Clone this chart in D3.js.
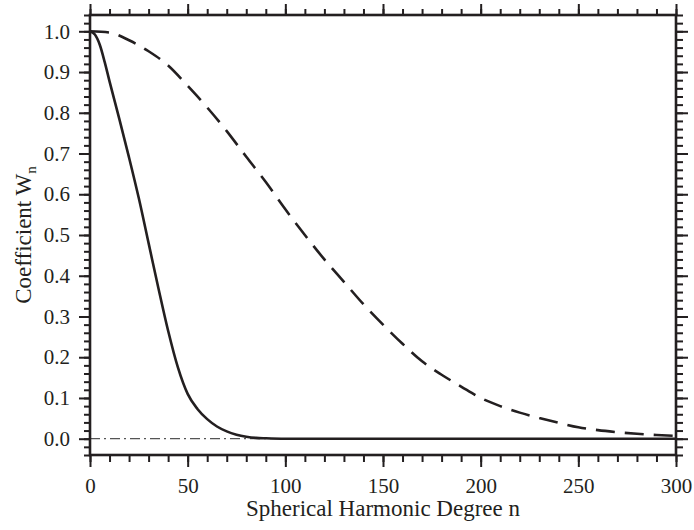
<!DOCTYPE html>
<meta charset="utf-8">
<style>
body { margin: 0; background: #fff; }
.axis text { font-family: "Liberation Serif", "Times New Roman", serif; font-size: 21px; fill: #231f20; }
.axis path { display: none; }
.axis line { stroke: #231f20; stroke-width: 2px; }
.title { font-family: "Liberation Serif", "Times New Roman", serif; font-size: 23px; fill: #231f20; }
</style>
<body>
<script src="https://d3js.org/d3.v7.min.js"></script>
<script>
    const width = 694;
    const height = 530;
    const margin = {top: 15, right: 18, bottom: 75, left: 90};

    // degree n and coefficients
    const narrowDegree = [0, 2.5, 5, 7.5, 10, 15, 20, 25, 30, 35, 40, 45, 50, 55, 60, 65, 70, 75, 80, 85, 90, 100, 150, 200, 250, 300];
    const narrowCoef   = [1.0, 0.992, 0.967, 0.925, 0.877, 0.785, 0.69, 0.59, 0.48, 0.37, 0.265, 0.175, 0.11, 0.073, 0.048, 0.03, 0.018, 0.01, 0.005, 0.002, 0.001, 0, 0, 0, 0, 0];

    const wideDegree = [0, 10, 20, 30, 40, 50, 60, 70, 80, 90, 100, 110, 120, 130, 140, 150, 160, 170, 180, 190, 200, 210, 220, 230, 240, 250, 260, 270, 280, 290, 300];
    const wideCoef   = [1.0, 0.997, 0.978, 0.951, 0.916, 0.866, 0.813, 0.755, 0.692, 0.63, 0.563, 0.5, 0.44, 0.385, 0.33, 0.28, 0.233, 0.19, 0.157, 0.128, 0.1, 0.08, 0.064, 0.051, 0.039, 0.028, 0.021, 0.016, 0.012, 0.009, 0.007];

    const xTicks = [0, 50, 100, 150, 200, 250, 300];
    const yTicks = [0.0, 0.1, 0.2, 0.3, 0.4, 0.5, 0.6, 0.7, 0.8, 0.9, 1.0];

    const x = d3.scaleLinear().domain([0, 300]).range([margin.left, width - margin.right]);
    const y = d3.scaleLinear().domain([-0.04, 1.04]).range([height - margin.bottom, margin.top]);

    const svg = d3.select("body").append("svg")
        .attr("width", width)
        .attr("height", height);

    const xMinor = d3.range(0, 301, 10);
    const yMinor = d3.range(-0.04, 1.041, 0.02).map(v => Math.round(v * 100) / 100);

    // minor ticks
    svg.append("g").attr("class", "axis")
        .attr("transform", `translate(0,${y.range()[0]})`)
        .call(d3.axisBottom(x).tickValues(xMinor).tickSize(7).tickFormat(""));
    svg.append("g").attr("class", "axis")
        .attr("transform", `translate(0,${y.range()[1]})`)
        .call(d3.axisTop(x).tickValues(xMinor).tickSize(6).tickFormat(""));
    svg.append("g").attr("class", "axis")
        .attr("transform", `translate(${x.range()[0]},0)`)
        .call(d3.axisLeft(y).tickValues(yMinor).tickSize(6).tickFormat(""));
    svg.append("g").attr("class", "axis")
        .attr("transform", `translate(${x.range()[1]},0)`)
        .call(d3.axisRight(y).tickValues(yMinor).tickSize(7).tickFormat(""));

    // major ticks with labels
    svg.append("g").attr("class", "axis")
        .attr("transform", `translate(0,${y.range()[0]})`)
        .call(d3.axisBottom(x).tickValues(xTicks).tickSize(12).tickPadding(11).tickFormat(d3.format("d")));
    svg.append("g").attr("class", "axis")
        .attr("transform", `translate(0,${y.range()[1]})`)
        .call(d3.axisTop(x).tickValues(xTicks).tickSize(11).tickFormat(""));
    svg.append("g").attr("class", "axis")
        .attr("transform", `translate(${x.range()[0]},0)`)
        .call(d3.axisLeft(y).tickValues(yTicks).tickSize(11).tickPadding(9).tickFormat(d3.format(".1f")));
    svg.append("g").attr("class", "axis")
        .attr("transform", `translate(${x.range()[1]},0)`)
        .call(d3.axisRight(y).tickValues(yTicks).tickSize(12).tickFormat(""));

    // zero line
    svg.append("line")
        .attr("x1", x(0)).attr("x2", x(300))
        .attr("y1", y(0)).attr("y2", y(0))
        .attr("stroke", "#555")
        .attr("stroke-width", 1.2)
        .attr("stroke-dasharray", "10,4,2,4");

    const line = d3.line()
        .x(d => x(d[0]))
        .y(d => y(d[1]))
        .curve(d3.curveMonotoneX);

    svg.append("path")
        .datum(narrowDegree.map((n, i) => [n, narrowCoef[i]]))
        .attr("d", line)
        .attr("fill", "none")
        .attr("stroke", "#231f20")
        .attr("stroke-width", 2.6);

    svg.append("path")
        .datum(wideDegree.map((n, i) => [n, wideCoef[i]]))
        .attr("d", line)
        .attr("fill", "none")
        .attr("stroke", "#231f20")
        .attr("stroke-width", 2.6)
        .attr("stroke-dasharray", "19,10");

    // frame
    svg.append("rect")
        .attr("x", x.range()[0])
        .attr("y", y.range()[1])
        .attr("width", x.range()[1] - x.range()[0])
        .attr("height", y.range()[0] - y.range()[1])
        .attr("fill", "none")
        .attr("stroke", "#231f20")
        .attr("stroke-width", 2.6);

    svg.append("text")
        .attr("class", "title")
        .attr("x", (x.range()[0] + x.range()[1]) / 2)
        .attr("y", 516)
        .attr("text-anchor", "middle")
        .text("Spherical Harmonic Degree n");

    const ylab = svg.append("text")
        .attr("class", "title")
        .attr("transform", `translate(31,${(y.range()[0] + y.range()[1]) / 2}) rotate(-90)`)
        .attr("text-anchor", "middle");
    ylab.append("tspan").text("Coefficient W");
    ylab.append("tspan").attr("dy", 5).attr("font-size", 15).text("n");
</script>
</body>
